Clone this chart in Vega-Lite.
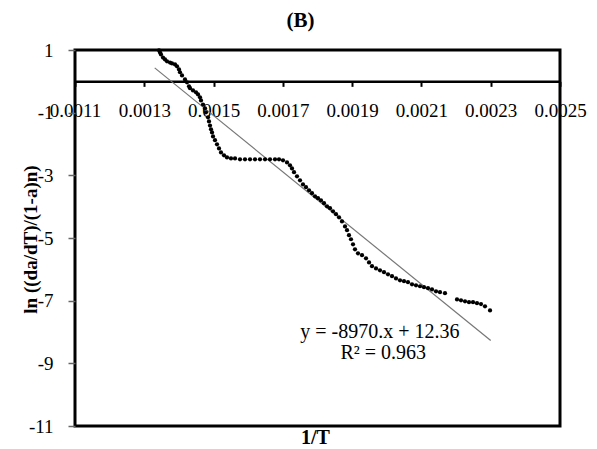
{
  "$schema": "https://vega.github.io/schema/vega-lite/v6.json",
  "width": 485,
  "height": 376,
  "autosize": {"type": "none"},
  "padding": {"left": 75, "top": 50, "right": 37, "bottom": 23},
  "background": "white",
  "title": {"text": "(B)", "font": "Liberation Serif", "fontSize": 21, "fontWeight": "bold", "color": "#000", "offset": 10, "dx": -17, "anchor": "middle"},
  "config": {"view": {"stroke": "#000", "strokeWidth": 3}, "font": "Liberation Serif"},
  "datasets": {
    "points": [
      {"x":0.0013425,"y":0.99},{"x":0.0013454,"y":0.92},{"x":0.0013482,"y":0.86},{"x":0.0013540,"y":0.76},{"x":0.0013598,"y":0.70},{"x":0.0013656,"y":0.64},{"x":0.0013742,"y":0.60},{"x":0.0013800,"y":0.57},{"x":0.0013887,"y":0.54},{"x":0.0013944,"y":0.48},{"x":0.0014002,"y":0.38},{"x":0.0014031,"y":0.29},{"x":0.0014089,"y":0.19},{"x":0.0014175,"y":0.06},{"x":0.0014233,"y":-0.03},{"x":0.0014291,"y":-0.16},{"x":0.0014320,"y":-0.22},{"x":0.0014406,"y":-0.29},{"x":0.0014493,"y":-0.35},{"x":0.0014551,"y":-0.42},{"x":0.0014608,"y":-0.51},{"x":0.0014637,"y":-0.61},{"x":0.0014695,"y":-0.74},{"x":0.0014753,"y":-0.86},{"x":0.0014781,"y":-0.99},{"x":0.0014839,"y":-1.15},{"x":0.0014868,"y":-1.28},{"x":0.0014897,"y":-1.41},{"x":0.0014926,"y":-1.53},{"x":0.0014955,"y":-1.63},{"x":0.0014984,"y":-1.76},{"x":0.0015041,"y":-1.88},{"x":0.0015099,"y":-2.01},{"x":0.0015157,"y":-2.14},{"x":0.0015214,"y":-2.27},{"x":0.0015301,"y":-2.36},{"x":0.0015388,"y":-2.43},{"x":0.0015503,"y":-2.46},{"x":0.0015619,"y":-2.46},{"x":0.0015763,"y":-2.49},{"x":0.0015907,"y":-2.49},{"x":0.0016052,"y":-2.49},{"x":0.0016196,"y":-2.49},{"x":0.0016340,"y":-2.49},{"x":0.0016485,"y":-2.49},{"x":0.0016629,"y":-2.49},{"x":0.0016773,"y":-2.49},{"x":0.0016889,"y":-2.49},{"x":0.0017004,"y":-2.52},{"x":0.0017120,"y":-2.59},{"x":0.0017206,"y":-2.68},{"x":0.0017264,"y":-2.78},{"x":0.0017322,"y":-2.90},{"x":0.0017408,"y":-3.03},{"x":0.0017495,"y":-3.16},{"x":0.0017581,"y":-3.29},{"x":0.0017668,"y":-3.38},{"x":0.0017755,"y":-3.48},{"x":0.0017841,"y":-3.57},{"x":0.0017928,"y":-3.67},{"x":0.0018014,"y":-3.73},{"x":0.0018101,"y":-3.80},{"x":0.0018188,"y":-3.89},{"x":0.0018274,"y":-3.99},{"x":0.0018361,"y":-4.05},{"x":0.0018447,"y":-4.15},{"x":0.0018534,"y":-4.24},{"x":0.0018621,"y":-4.34},{"x":0.0018707,"y":-4.47},{"x":0.0018794,"y":-4.63},{"x":0.0018852,"y":-4.75},{"x":0.0018909,"y":-4.91},{"x":0.0018967,"y":-5.04},{"x":0.0019025,"y":-5.20},{"x":0.0019082,"y":-5.36},{"x":0.0019169,"y":-5.49},{"x":0.0019285,"y":-5.55},{"x":0.0019400,"y":-5.65},{"x":0.0019487,"y":-5.78},{"x":0.0019573,"y":-5.90},{"x":0.0019689,"y":-5.97},{"x":0.0019804,"y":-6.03},{"x":0.0019920,"y":-6.09},{"x":0.0020035,"y":-6.16},{"x":0.0020151,"y":-6.22},{"x":0.0020266,"y":-6.29},{"x":0.0020381,"y":-6.35},{"x":0.0020497,"y":-6.38},{"x":0.0020612,"y":-6.41},{"x":0.0020728,"y":-6.48},{"x":0.0020843,"y":-6.51},{"x":0.0020959,"y":-6.54},{"x":0.0021074,"y":-6.57},{"x":0.0021190,"y":-6.60},{"x":0.0021305,"y":-6.64},{"x":0.0021421,"y":-6.70},{"x":0.0021536,"y":-6.73},{"x":0.0021680,"y":-6.76},{"x":0.0022027,"y":-6.96},{"x":0.0022142,"y":-6.99},{"x":0.0022258,"y":-7.02},{"x":0.0022373,"y":-7.05},{"x":0.0022489,"y":-7.05},{"x":0.0022604,"y":-7.08},{"x":0.0022720,"y":-7.11},{"x":0.0022835,"y":-7.18},{"x":0.0022980,"y":-7.31}
    ],
    "fit": [
      {"x": 0.00133, "y": 0.43},
      {"x": 0.0023, "y": -8.271}
    ],
    "eq": [
      {"x": 0.00198, "y": -8.0, "label": "y = -8970.x + 12.36"},
      {"x": 0.00199, "y": -8.68, "label": "R² = 0.963"}
    ]
  },
  "encoding": {
    "x": {
      "field": "x", "type": "quantitative",
      "scale": {"domain": [0.0011, 0.0025], "nice": false, "zero": false},
      "axis": {
        "orient": "bottom", "offset": -344.65,
        "values": [0.0011, 0.0013, 0.0015, 0.0017, 0.0019, 0.0021, 0.0023, 0.0025],
        "format": ".4f",
        "domainColor": "#000", "domainWidth": 2.5,
        "tickColor": "#000", "tickWidth": 2, "tickSize": 5,
        "labelFont": "Liberation Serif", "labelFontSize": 19, "labelColor": "#000", "labelPadding": 15,
        "labelOverlap": false, "labelFlush": false, "grid": false,
        "title": "1/T", "titleFont": "Liberation Serif", "titleFontSize": 20, "titleFontWeight": "bold", "titleColor": "#000",
        "titleX": 240, "titleY": 346, "titleBaseline": "top", "titleAlign": "center"
      }
    },
    "y": {
      "field": "y", "type": "quantitative",
      "scale": {"domain": [-11, 1], "nice": false, "zero": false},
      "axis": {
        "values": [1, -1, -3, -5, -7, -9, -11],
        "labelExpr": "'' + datum.value",
        "domain": false,
        "tickColor": "#666", "tickWidth": 1.5, "tickSize": 7,
        "labelFont": "Liberation Serif", "labelFontSize": 19, "labelColor": "#000", "labelPadding": 15,
        "labelOverlap": false, "grid": false,
        "title": "ln ((da/dT)/(1-a)n)", "titleFont": "Liberation Serif", "titleFontSize": 19, "titleFontWeight": "bold", "titleColor": "#000",
        "titleX": -45, "titleY": 189, "titleAngle": -90, "titleBaseline": "middle", "titleAlign": "center"
      }
    }
  },
  "layer": [
    {"data": {"name": "fit"}, "mark": {"type": "line", "color": "#777", "strokeWidth": 1.2}},
    {"data": {"name": "points"}, "mark": {"type": "point", "filled": true, "color": "#000", "size": 18, "opacity": 1}},
    {"data": {"name": "eq"}, "mark": {"type": "text", "font": "Liberation Serif", "fontSize": 20, "color": "#000", "align": "center", "baseline": "middle"}, "encoding": {"text": {"field": "label"}}}
  ]
}
